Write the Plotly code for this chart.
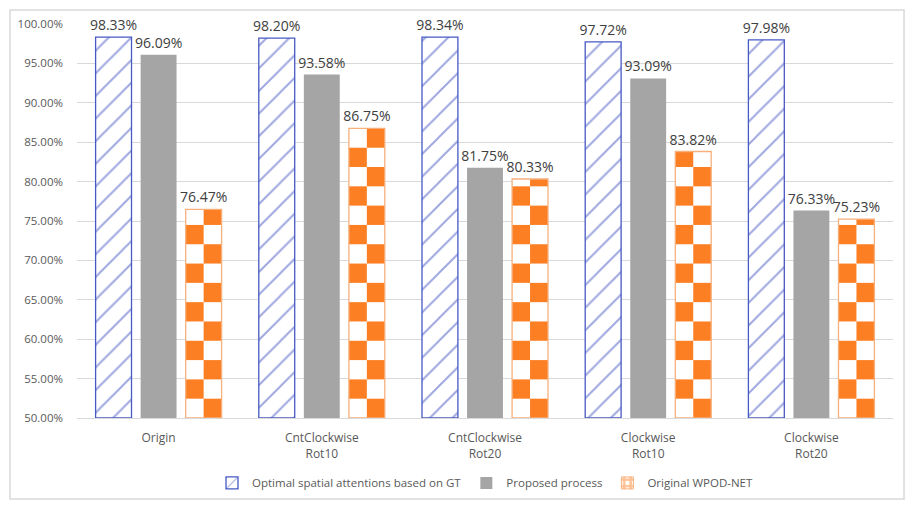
import plotly.graph_objects as go

categories = ["Origin", "CntClockwise<br>Rot10", "CntClockwise<br>Rot20",
              "Clockwise<br>Rot10", "Clockwise<br>Rot20"]
series_names = ["Optimal spatial attentions based on GT", "Proposed process", "Original WPOD-NET"]
optimal = [98.33, 98.20, 98.34, 97.72, 97.98]
proposed = [96.09, 93.58, 81.75, 93.09, 76.33]
original = [76.47, 86.75, 80.33, 83.82, 75.23]
y_ticks = [50, 55, 60, 65, 70, 75, 80, 85, 90, 95, 100]

BLUE = "#4659c4"
HATCH = "#3a4dbf"
GRAY = "#a5a5a5"
ORANGE = "#fd7f24"
ORANGE_EDGE = "#f6b07c"
TXT = "#404040"
AX = "#595959"

W = 0.22        # bar width (category units)
STEP = 0.276    # spacing between bar centres
offs = [-W / 2 - STEP, -W / 2, -W / 2 + STEP]
BASE = 50
CELL = 2.45     # checker cell height (axis units)


def labels(vals):
    return [f"{v:.2f}%" for v in vals]


fig = go.Figure()

# Blue hatched
fig.add_trace(go.Bar(
    x=categories, y=[v - BASE for v in optimal], base=BASE, offset=offs[0], width=W,
    name=series_names[0], legendrank=1,
    marker=dict(color="white", line=dict(color=BLUE, width=1.3),
                pattern=dict(shape="/", fgcolor=HATCH, bgcolor="white", size=16, solidity=0.12)),
    text=labels(optimal), textposition="outside", cliponaxis=False, constraintext="none",
    textfont=dict(size=14, color=TXT),
))

# Gray solid
fig.add_trace(go.Bar(
    x=categories, y=[v - BASE for v in proposed], base=BASE, offset=offs[1], width=W,
    name=series_names[1], legendrank=2,
    marker=dict(color=GRAY, line=dict(width=0)),
    text=labels(proposed), textposition="outside", cliponaxis=False, constraintext="none",
    textfont=dict(size=14, color=TXT),
))

# Orange: white base bar with labels
fig.add_trace(go.Bar(
    x=categories, y=[v - BASE for v in original], base=BASE, offset=offs[2], width=W,
    name=series_names[2], showlegend=False,
    marker=dict(color="white", line=dict(width=0)),
    text=labels(original), textposition="outside", cliponaxis=False, constraintext="none",
    textfont=dict(size=14, color=TXT),
))

# Orange checker cells derived from the values
cx, cbase, cy, coff = [], [], [], []
for cat, v in zip(categories, original):
    k = 0
    while BASE + k * CELL < v:
        y0 = BASE + k * CELL
        y1 = min(BASE + (k + 1) * CELL, v)
        col = 1 if k % 2 == 0 else 0
        cx.append(cat)
        cbase.append(y0)
        cy.append(y1 - y0)
        coff.append(offs[2] + col * W / 2)
        k += 1
fig.add_trace(go.Bar(
    x=cx, y=cy, base=cbase, offset=coff, width=W / 2, showlegend=False,
    marker=dict(color=ORANGE, line=dict(width=0)), hoverinfo="skip",
))

# Orange outline on top
fig.add_trace(go.Bar(
    x=categories, y=[v - BASE for v in original], base=BASE, offset=offs[2], width=W,
    showlegend=False, hoverinfo="skip",
    marker=dict(color="rgba(0,0,0,0)", line=dict(color=ORANGE_EDGE, width=1.3)),
))

# Legend entry for orange series
fig.add_trace(go.Bar(
    x=[None], y=[None], name=series_names[2], legendrank=3,
    marker=dict(color="white", line=dict(color=ORANGE_EDGE, width=1),
                pattern=dict(shape="+", fgcolor=ORANGE, bgcolor="white", size=8, solidity=0.6)),
))

fig.update_layout(
    width=919, height=507,
    margin=dict(l=77, r=26, t=24, b=89, autoexpand=False),
    paper_bgcolor="white", plot_bgcolor="white",
    font=dict(family="Open Sans, sans-serif", color=AX),
    barmode="overlay",
    showlegend=True,
    legend=dict(orientation="h", x=0.5, xanchor="center", y=-0.128, yanchor="top",
                font=dict(size=11.5, color=AX), traceorder="normal", itemwidth=30),
    xaxis=dict(showgrid=False, showline=True, linecolor="#d9d9d9", linewidth=1,
               tickfont=dict(size=12, color=AX), ticks="", automargin=False,
               ticklabelstandoff=9),
    yaxis=dict(range=[50, 100], tickvals=y_ticks, ticktext=[f"{t:.2f}%" for t in y_ticks],
               showgrid=True, gridcolor="#d9d9d9", gridwidth=1, zeroline=False,
               showline=False, tickfont=dict(size=11.5, color=AX), ticks="", automargin=False,
               ticklabelstandoff=13),
    shapes=[dict(type="rect", xref="paper", yref="paper",
                 x0=-0.0821, x1=1.0135, y0=-0.2056, y1=1.0355,
                 line=dict(color="#d9d9d9", width=1.5), fillcolor="rgba(0,0,0,0)", layer="below")],
)

fig.write_html("out.html", config={"displayModeBar": False},
               post_script="document.body.style.margin='0';document.body.style.padding='0';")
